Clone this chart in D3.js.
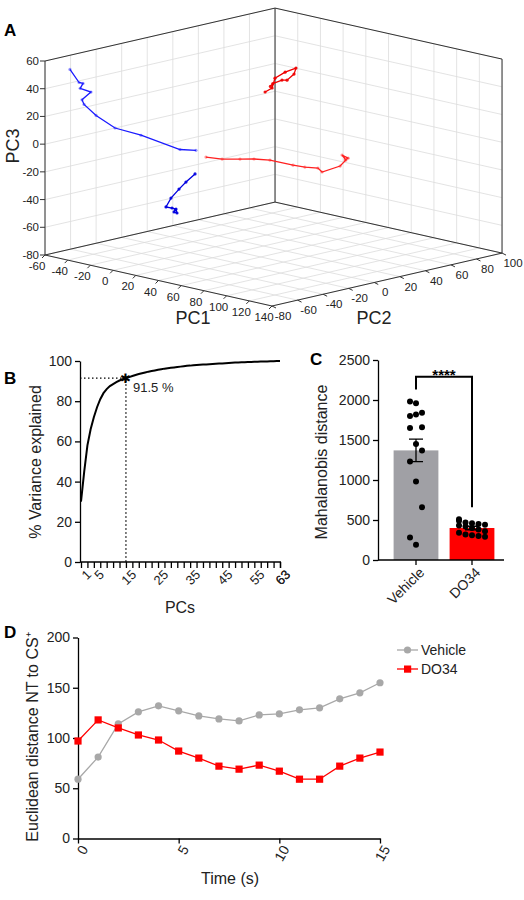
<!DOCTYPE html>
<html><head><meta charset="utf-8">
<script src="https://cdn.jsdelivr.net/npm/d3@7"></script>
<style>body{margin:0;background:#fff}svg{font-family:"Liberation Sans",Arial,sans-serif}</style>
</head><body><svg id="c" width="524" height="900"></svg>
<script>
// ---------- DATA ----------
const pc1Ticks=[-60,-40,-20,0,20,40,60,80,100,120,140];
const pc2Ticks=[-80,-60,-40,-20,0,20,40,60,80,100];
const pc3Ticks=[-80,-60,-40,-20,0,20,40,60];
const blueTop=[[-38,-80,58],[-30,-80,50],[-26.5,-80,50],[-29,-80,46],[-19.5,-80,45],[-27.4,-80,38],[-25.6,-80,35],[-15,-80,29],[1.7,-80,23],[24.6,-80,22],[58.9,-80,18],[73,-80,20]];
const blueBot=[[72.2,-80,2.8],[64.2,-80,-4.5],[58.1,-80,-10.7],[51,-80,-18.5],[46.6,-80,-25.7],[51.9,-80,-25.5],[55.4,-80,-25.6],[56.3,-80,-28.3],[53.7,-80,-28],[55,-80,-26]];
const redBot=[[17.3,-22.7,-7.3],[24,-16,-8.9],[31.4,-8.6,-9.1],[37.2,-2.8,-9.2],[43.8,3.8,-10.2],[53.4,13.4,-14.1],[58.3,18.3,-15.6],[63.7,23.7,-16.5],[65.4,25.4,-19.4],[72.9,32.9,-15.3],[75.3,35.3,-11],[73.7,33.7,-7.4],[76.2,36.2,-9.7],[75,35,-11]];
const redTop=[[41.8,1.8,39],[44.7,4.7,41.8],[45.9,5.9,48.9],[50.1,10.1,53.1],[54.6,14.6,55.9],[53.8,13.8,51.6],[50.9,10.9,47.3],[48.8,8.8,47.4],[45,5,45],[44,4,43]];

const pcs=d3.range(1,64);
const cumVar=[30,45,58,66,72,77,81,84,86,87.5,88.5,89.5,90.3,91,91.5,92,92.5,93,93.5,93.9,94.3,94.7,95,95.3,95.6,95.9,96.2,96.4,96.6,96.8,97,97.2,97.4,97.6,97.7,97.9,98,98.1,98.2,98.3,98.4,98.5,98.6,98.7,98.8,98.9,99,99.1,99.2,99.3,99.35,99.4,99.5,99.55,99.6,99.65,99.7,99.75,99.8,99.85,99.9,99.95,100];
const pcTickLabels=[1,5,15,25,35,45,55,63];

const groups=["Vehicle","DO34"];
const groupMean=[1370,400];
const groupSEM=[140,22];
const vehiclePts=[1980,1960,1840,1800,1820,1660,1650,1450,1370,1230,980,660,280,190];
const do34Pts=[490,470,460,450,440,430,420,400,380,360,340,320,310,300,290,510];

const time=d3.range(0,16);
const vehicleD=[59,81,114,126,132,127,122,119,117,123,124,128,130,139,145,155];
const do34D=[97,118,110,103,98,87,80,72,69,73,67,59,59,72,80,86];

// ---------- DRAW ----------
const svg=d3.select("#c");
const txt=(x,y,s,o={})=>{const t=svg.append("text").attr("x",x).attr("y",y).text(s).attr("font-size",o.fs||11).attr("fill",o.fill||"#222").attr("text-anchor",o.a||"start");if(o.w)t.attr("font-weight",o.w);if(o.r!==undefined)t.attr("transform",`rotate(${o.r},${x},${y})`);return t;};

// Panel A: projected 3D
const s1=d3.scaleLinear().domain([-60,140]).range([0,200]);
const s2=d3.scaleLinear().domain([-80,100]).range([0,180]);
const s3=d3.scaleLinear().domain([-80,60]).range([255,61]);
function P(a,b,c){const u=s1(a),v=s2(b);return [45+u*1.135+v*1.278, s3(c)+u*0.255-v*0.294];}
const gA=svg.append("g");
const seg=(p,q,col,w)=>gA.append("line").attr("x1",p[0]).attr("y1",p[1]).attr("x2",q[0]).attr("y2",q[1]).attr("stroke",col).attr("stroke-width",w);
const G="#dcdcdc";
pc2Ticks.forEach(v=>seg(P(-60,v,-80),P(-60,v,60),G,0.8));
pc3Ticks.forEach(v=>seg(P(-60,-80,v),P(-60,100,v),G,0.8));
pc1Ticks.forEach(v=>seg(P(v,100,-80),P(v,100,60),G,0.8));
pc3Ticks.forEach(v=>seg(P(-60,100,v),P(140,100,v),G,0.8));
pc1Ticks.forEach(v=>seg(P(v,-80,-80),P(v,100,-80),G,0.8));
pc2Ticks.forEach(v=>seg(P(-60,v,-80),P(140,v,-80),G,0.8));
const E="#333";
[[[-60,-80,60],[-60,100,60]],[[-60,100,60],[140,100,60]],[[-60,100,-80],[-60,100,60]],[[-60,-80,-80],[-60,-80,60]],[[140,100,-80],[140,100,60]],
 [[-60,-80,-80],[-60,100,-80]],[[-60,100,-80],[140,100,-80]],[[-60,-80,-80],[140,-80,-80]],[[140,-80,-80],[140,100,-80]]].forEach(e=>seg(P(...e[0]),P(...e[1]),E,1));
pc3Ticks.forEach(v=>{const p=P(-60,-80,v);seg(p,[p[0]-5,p[1]],E,1);txt(p[0]-6,p[1]+4,v,{a:"end",fs:11.5});});
pc1Ticks.forEach(v=>{const p=P(v,-80,-80);seg(p,[p[0]-3,p[1]+3],E,1);txt(p[0]-8,p[1]+15,v,{a:"middle",fs:11.5});});
pc2Ticks.forEach(v=>{const p=P(140,v,-80);seg(p,[p[0]+4,p[1]+2],E,1);txt(p[0]+11,p[1]+14,v,{a:"middle",fs:11.5});});
txt(193,324,"PC1",{a:"middle",fs:18});
txt(374,324,"PC2",{a:"middle",fs:18});
txt(19,146,"PC3",{a:"middle",fs:18,r:-90});
txt(4,36,"A",{fs:17,w:"bold",fill:"#000"});
const line3=d3.line().x(d=>P(...d)[0]).y(d=>P(...d)[1]);
[[blueTop,"#1a1aff"],[blueBot,"#0000e0"],[redBot,"#ff2020"],[redTop,"#ee0000"]].forEach(([arr,col],k)=>{
  gA.append("path").attr("d",line3(arr)).attr("fill","none").attr("stroke",col).attr("stroke-width",1.3);
  arr.forEach(d=>{const p=P(...d);gA.append("circle").attr("cx",p[0]).attr("cy",p[1]).attr("r",1.6).attr("fill",col).attr("opacity",k%2==0?0.45:0.9);});
});

const tickStyle=(g,fs)=>{g.selectAll("text").attr("font-size",fs).attr("fill","#222");g.select(".domain").attr("stroke-width",1.3);g.selectAll(".tick line").attr("stroke-width",1.3);};

// Panel B
const xB=d3.scaleLinear().domain([1,63]).range([81,280]);
const yB=d3.scaleLinear().domain([0,100]).range([562,361]);
const gB=svg.append("g");
gB.append("g").attr("transform","translate(80,0)").call(d3.axisLeft(yB).tickValues([0,20,40,60,80,100]).tickSize(5).tickSizeOuter(0)).call(g=>tickStyle(g,14));
const axB=gB.append("g").attr("transform","translate(0,562)").call(d3.axisBottom(xB).tickValues(d3.range(1,64,2).concat([63])).tickSize(6).tickFormat(d=>pcTickLabels.includes(d)?d:"").tickSizeOuter(0));
tickStyle(axB,13);
axB.select(".domain").attr("d","M80,0H281");
axB.selectAll("text").attr("text-anchor","end").attr("dx","-2").attr("dy","8").attr("transform","rotate(-45)");
gB.append("path").attr("d",d3.line().x((d,i)=>xB(pcs[i])).y(d=>yB(d))(cumVar)).attr("fill","none").attr("stroke","#000").attr("stroke-width",2);
gB.append("path").attr("d",`M80,${yB(91.5)}H${xB(15)}V562`).attr("fill","none").attr("stroke","#000").attr("stroke-width",1.3).attr("stroke-dasharray","1.5,2.5");
txt(xB(15),yB(91.5)+5,"✱",{a:"middle",fs:13,fill:"#000"});
txt(133,392,"91.5 %",{fs:13});
txt(41,462,"% Variance explained",{a:"middle",fs:16,r:-90});
txt(180,613,"PCs",{a:"middle",fs:16});
txt(4,384,"B",{fs:17,w:"bold",fill:"#000"});

// Panel C
const xC=d3.scaleBand().domain(groups).range([388,500]).paddingInner(0.2).paddingOuter(0.1);
const yC=d3.scaleLinear().domain([0,2500]).range([560,360]);
const gC=svg.append("g");
const cols=["#a0a0a5","#ff0000"];
groups.forEach((g,i)=>{
  const x=xC(g),w=xC.bandwidth(),cx=x+w/2;
  gC.append("rect").attr("x",x).attr("y",yC(groupMean[i])).attr("width",w).attr("height",560-yC(groupMean[i])).attr("fill",cols[i]);
  const pts=i==0?vehiclePts:do34Pts;
  pts.forEach((v,j)=>{const off=i==0?((j%3)-1)*6:((j%5)-2)*6.5;gC.append("circle").attr("cx",cx+off).attr("cy",yC(v)).attr("r",3).attr("fill","#000");});
  const lo=yC(groupMean[i]-groupSEM[i]),hi=yC(groupMean[i]+groupSEM[i]);
  gC.append("path").attr("d",`M${cx},${lo}V${hi}M${cx-7},${lo}H${cx+7}M${cx-7},${hi}H${cx+7}`).attr("stroke","#000").attr("stroke-width",1.3);
});
gC.append("g").attr("transform","translate(378,0)").call(d3.axisLeft(yC).tickValues([0,500,1000,1500,2000,2500]).tickFormat(d3.format("d")).tickSize(5).tickSizeOuter(0)).call(g=>tickStyle(g,14));
const axC=gC.append("g").attr("transform","translate(0,560)").call(d3.axisBottom(xC).tickSize(5).tickSizeOuter(0));
tickStyle(axC,14);
axC.select(".domain").attr("d","M378,0H504");
axC.selectAll("text").attr("text-anchor","end").attr("dx","-3").attr("dy","8").attr("transform","rotate(-45)");
const c0=xC("Vehicle")+xC.bandwidth()/2,c1=xC("DO34")+xC.bandwidth()/2;
gC.append("path").attr("d",`M${c0},${yC(2130)}V${yC(2290)}H${c1}V${yC(660)}`).attr("fill","none").attr("stroke","#000").attr("stroke-width",2);
txt((c0+c1)/2,yC(2330)+6,"****",{a:"middle",fs:15,w:"bold",fill:"#000"});
txt(327,462,"Mahalanobis distance",{a:"middle",fs:16,r:-90});
txt(310,365,"C",{fs:17,w:"bold",fill:"#000"});

// Panel D
const xD=d3.scaleLinear().domain([0,15]).range([78,380]);
const yD=d3.scaleLinear().domain([0,200]).range([838.5,637.5]);
const gD=svg.append("g");
gD.append("g").attr("transform","translate(78,0)").call(d3.axisLeft(yD).tickValues([0,50,100,150,200]).tickSize(5).tickSizeOuter(0)).call(g=>tickStyle(g,14));
const axD=gD.append("g").attr("transform","translate(0,838.5)").call(d3.axisBottom(xD).tickValues([0,5,10,15]).tickSize(5).tickSizeOuter(0));
tickStyle(axD,14);
axD.selectAll("text").attr("text-anchor","end").attr("dx","-4").attr("dy","6").attr("transform","rotate(-60)");
const lD=d3.line().x((d,i)=>xD(time[i])).y(d=>yD(d));
gD.append("path").attr("d",lD(vehicleD)).attr("fill","none").attr("stroke","#a8a8a8").attr("stroke-width",1.3);
vehicleD.forEach((d,i)=>gD.append("circle").attr("cx",xD(time[i])).attr("cy",yD(d)).attr("r",3.6).attr("fill","#a8a8a8"));
gD.append("path").attr("d",lD(do34D)).attr("fill","none").attr("stroke","#ff0000").attr("stroke-width",1.3);
do34D.forEach((d,i)=>gD.append("rect").attr("x",xD(time[i])-3.6).attr("y",yD(d)-3.6).attr("width",7.2).attr("height",7.2).attr("fill","#ff0000"));
gD.append("line").attr("x1",397).attr("x2",418).attr("y1",650).attr("y2",650).attr("stroke","#a8a8a8").attr("stroke-width",1.3);
gD.append("circle").attr("cx",407.5).attr("cy",650).attr("r",3.6).attr("fill","#a8a8a8");
gD.append("line").attr("x1",397).attr("x2",418).attr("y1",669).attr("y2",669).attr("stroke","#ff0000").attr("stroke-width",1.3);
gD.append("rect").attr("x",404).attr("y",665.5).attr("width",7.2).attr("height",7.2).attr("fill","#ff0000");
txt(421,655,"Vehicle",{fs:14});
txt(421,674,"DO34",{fs:14});
txt(38,737,"Euclidean distance NT to CS⁺",{a:"middle",fs:16,r:-90});
txt(230,884,"Time (s)",{a:"middle",fs:16});
txt(4,638,"D",{fs:17,w:"bold",fill:"#000"});
</script></body></html>
